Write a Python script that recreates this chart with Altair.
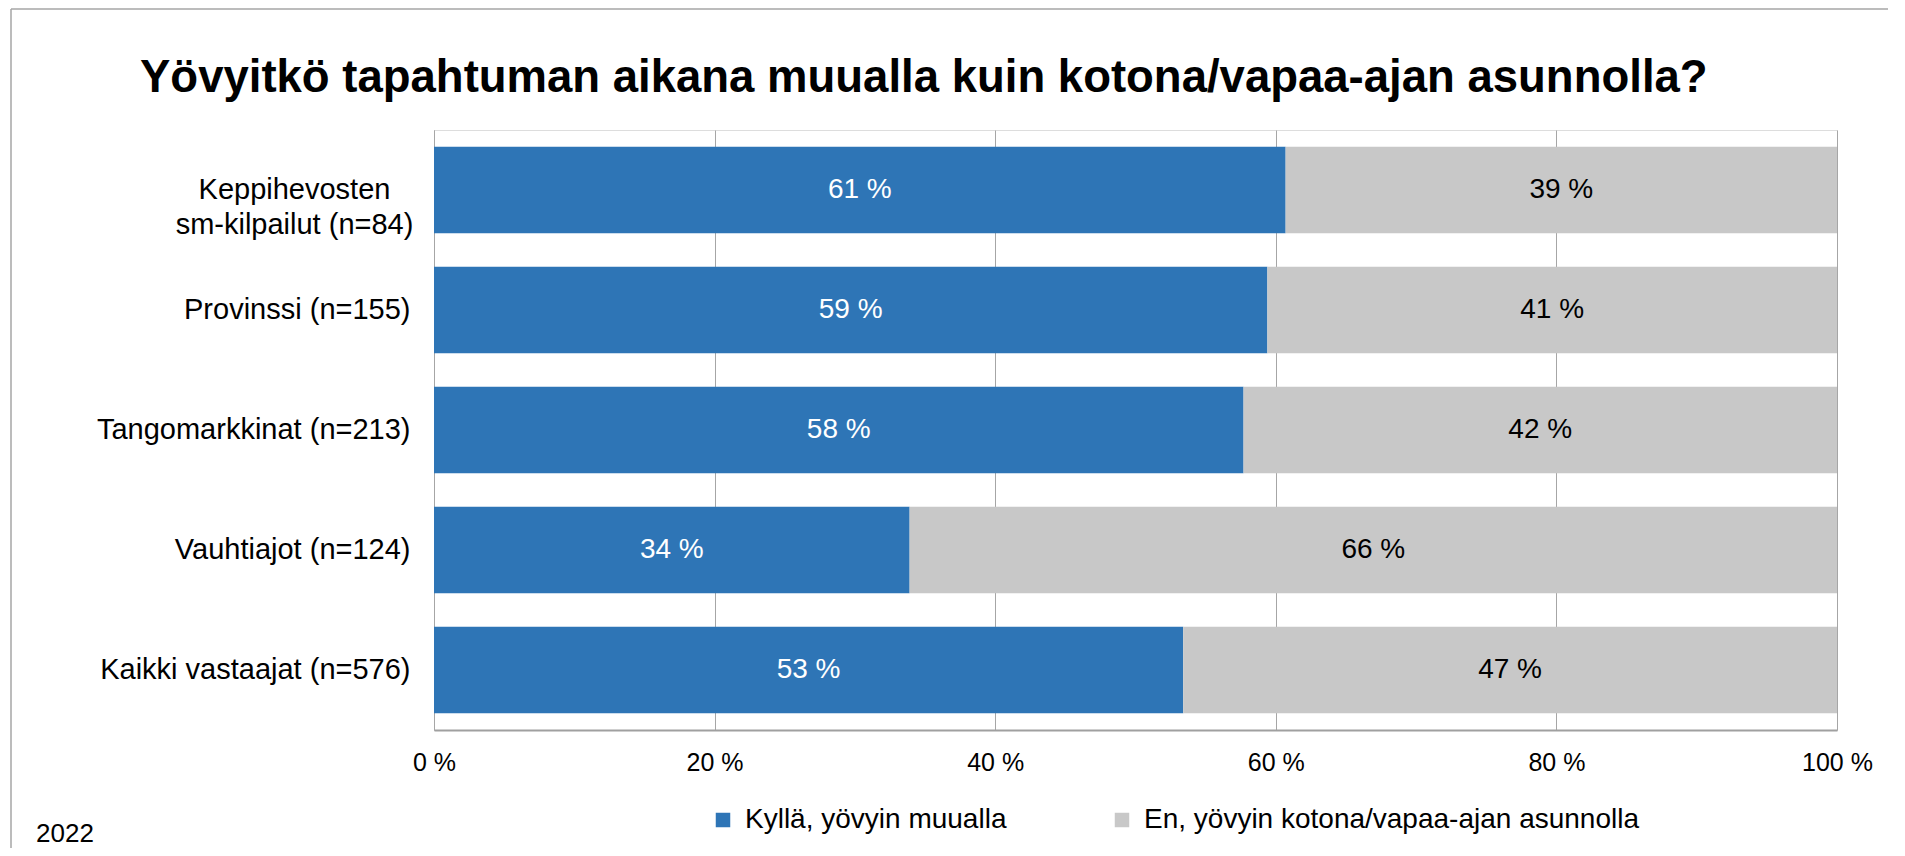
import altair as alt
import pandas as pd

# ---- data ----
categories = [
    "Keppihevosten|sm-kilpailut (n=84)",
    "Provinssi (n=155)",
    "Tangomarkkinat (n=213)",
    "Vauhtiajot (n=124)",
    "Kaikki vastaajat (n=576)",
]
yes_values = [60.7, 59.4, 57.7, 33.9, 53.4]
no_values = [39.3, 40.6, 42.3, 66.1, 46.6]
series = ["Kyllä, yövyin muualla", "En, yövyin kotona/vapaa-ajan asunnolla"]
colors = ["#2E75B6", "#C8C8C8"]
x_ticks = [0, 20, 40, 60, 80, 100]
title_text = ["Yövyitkö tapahtuman aikana muualla kuin kotona/vapaa-ajan  asunnolla?"]
note_text = ["2022"]

rows = []
for cat, yv, nv in zip(categories, yes_values, no_values):
    rows.append({"cat": cat, "series": series[0], "value": yv, "order": 0})
    rows.append({"cat": cat, "series": series[1], "value": nv, "order": 1})
df = pd.DataFrame(rows)

FONT = "Liberation Sans"
PLOT_W, PLOT_H = 1403, 600
PAD_L, PAD_T, PAD_R, PAD_B = 426, 122, 51, 118

base = alt.Chart(df).transform_stack(
    stack="value",
    groupby=["cat"],
    as_=["x0", "x1"],
    sort=[alt.SortField("order", order="ascending")],
).transform_calculate(
    mid="(datum.x0 + datum.x1) / 2",
    label="format(datum.value, '.0f') + ' %'",
)

y_enc = alt.Y(
    "cat:N",
    sort=categories,
    title=None,
    scale=alt.Scale(paddingInner=0.28, paddingOuter=0.14),
    axis=alt.Axis(
        ticks=False,
        domainColor="#A6A6A6",
        domainWidth=1,
        labelFont=FONT,
        labelFontSize=29,
        labelColor="#000000",
        labelLimit=500,
        labelLineHeight=35,
        labelExpr="split(datum.label, '|')",
        labelAlign={"condition": {"test": "indexof(datum.value, '|') >= 0", "value": "center"}, "value": "right"},
        labelPadding={"condition": {"test": "indexof(datum.value, '|') >= 0", "value": 140}, "value": 24},
    ),
)

bars = base.mark_bar().encode(
    x=alt.X(
        "x0:Q",
        title=None,
        scale=alt.Scale(domain=[0, 100], nice=False),
        axis=alt.Axis(
            values=x_ticks,
            labelExpr="datum.value + ' %'",
            labelFlush=False,
            grid=True,
            gridColor="#A6A6A6",
            gridWidth=1,
            ticks=False,
            domainColor="#A0A0A0",
            domainWidth=2,
            labelFont=FONT,
            labelFontSize=25,
            labelColor="#000000",
            labelPadding=20,
        ),
    ),
    x2="x1:Q",
    y=y_enc,
    color=alt.Color(
        "series:N",
        scale=alt.Scale(domain=series, range=colors),
        legend=alt.Legend(
            title=None,
            orient="none",
            legendX=275,
            legendY=676,
            direction="horizontal",
            labelFont=FONT,
            labelFontSize=28,
            labelColor="#000000",
            labelLimit=700,
            labelOffset=8,
            columnPadding=101,
            symbolType="square",
            symbolSize=210,
            symbolStrokeWidth=0,
        ),
    ),
    order=alt.Order("order:Q"),
)

labels = base.mark_text(font=FONT, fontSize=28).encode(
    x=alt.X("mid:Q"),
    y=alt.Y("cat:N", sort=categories),
    text="label:N",
    color=alt.condition("datum.order == 0", alt.value("#FFFFFF"), alt.value("#000000")),
)

one = pd.DataFrame({"t": note_text})
border_top = alt.Chart(one).mark_rule(color="#A6A6A6", strokeWidth=1.5).encode(
    x=alt.value(-423), x2=alt.value(PLOT_W + PAD_R), y=alt.value(-121)
)
border_left = alt.Chart(one).mark_rule(color="#A6A6A6", strokeWidth=1.5).encode(
    x=alt.value(-423), y=alt.value(-121), y2=alt.value(PLOT_H + PAD_B)
)
note = alt.Chart(one).mark_text(
    font=FONT, fontSize=26, align="left", baseline="alphabetic", color="#000000"
).encode(x=alt.value(-398), y=alt.value(712), text="t:N")

title = alt.Chart(pd.DataFrame({"t": title_text})).mark_text(
    font=FONT, fontSize=45.5, fontWeight="bold", align="left", baseline="alphabetic", color="#000000"
).encode(x=alt.value(-294), y=alt.value(-38), text="t:N")

chart = alt.layer(bars, labels, border_top, border_left, note, title).properties(
    width=PLOT_W,
    height=PLOT_H,
    padding={"left": PAD_L, "top": PAD_T, "right": PAD_R, "bottom": PAD_B},
    autosize=alt.AutoSizeParams(type="none"),
).configure_view(strokeWidth=0).configure(background="#FFFFFF")

chart.save("out.html", embed_options={"renderer": "svg", "actions": False})
